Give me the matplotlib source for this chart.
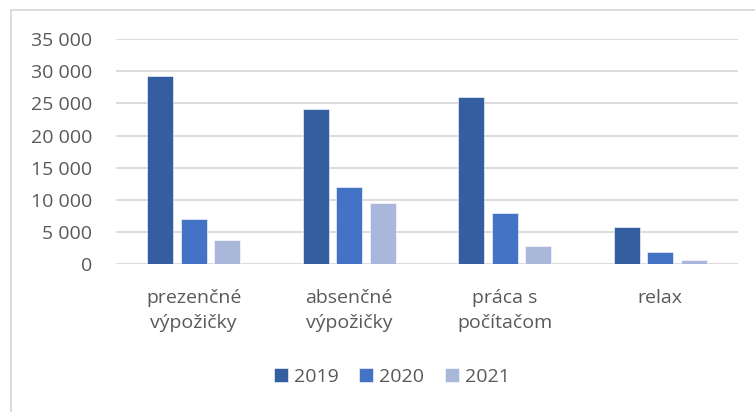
import matplotlib
matplotlib.use("Agg")
import matplotlib.pyplot as plt
from matplotlib.lines import Line2D
import numpy as np

categories = ["prezenčné\nvýpožičky", "absenčné\nvýpožičky", "práca s\npočítačom", "relax"]
years = ["2019", "2020", "2021"]
v2019 = [29300, 24200, 26000, 5800]
v2020 = [7000, 12000, 8000, 1900]
v2021 = [3800, 9500, 2850, 670]
yticks = [0, 5000, 10000, 15000, 20000, 25000, 30000, 35000]
ytick_labels = ["0", "5 000", "10 000", "15 000", "20 000", "25 000", "30 000", "35 000"]

colors = ["#355ea0", "#4472c4", "#a9b7db"]
text_color = "#595959"
plt.rcParams['font.family'] = ['Open Sans', 'DejaVu Sans']

fig = plt.figure(figsize=(7.55, 4.12), dpi=100)
ax = fig.add_axes([116/755, 1-264.3/412, (738-116)/755, (264.3-39)/412])

x = np.arange(len(categories))
pitch = 0.2155
width = 0.17
for i, (vals, yr) in enumerate(zip([v2019, v2020, v2021], years)):
    ax.bar(x + (i-1)*pitch, vals, width=width, color=colors[i], label=yr, zorder=3,
           edgecolor="white", linewidth=0.4)

ax.set_xlim(-0.5, len(categories)-0.5)
ax.set_ylim(0, 35000)
ax.set_yticks(yticks)
ax.set_yticklabels(ytick_labels)
ax.set_xticks(x)
ax.set_xticklabels(categories, linespacing=1.5)
ax.tick_params(axis='both', length=0, colors=text_color, labelsize=14)
ax.tick_params(axis='y', pad=17)
ax.tick_params(axis='x', pad=18)
ax.yaxis.grid(True, color="#d9d9d9", linewidth=1.3, zorder=0)
for s in ax.spines.values():
    s.set_visible(False)
ax.set_axisbelow(True)

leg = ax.legend(loc="center", bbox_to_anchor=((392-116)/622, (264.3-377)/(264.3-39)), ncol=3,
                frameon=False, fontsize=14, handlelength=0.72, handleheight=0.72,
                handletextpad=0.31, columnspacing=1.08)
for t in leg.get_texts():
    t.set_color(text_color)

# chart border (left and top)
fig.add_artist(Line2D([10.5/755, 10.5/755], [0, 1-10/412], color="#d9d9d9", linewidth=1.3))
fig.add_artist(Line2D([10.5/755, 1], [1-10/412, 1-10/412], color="#d9d9d9", linewidth=1.3))

fig.savefig("out.png", dpi=100)
